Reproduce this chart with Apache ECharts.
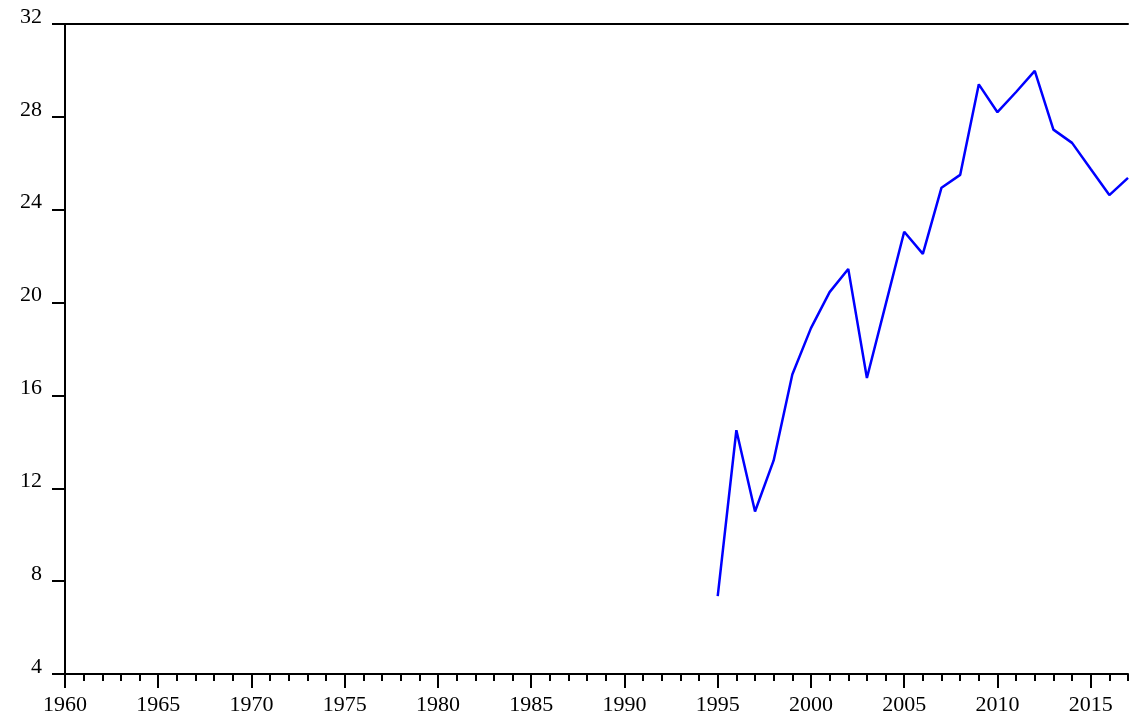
<!DOCTYPE html>
<html>
<head>
<meta charset="utf-8">
<script src="https://cdn.jsdelivr.net/npm/echarts@6/dist/echarts.min.js"></script>
<style>
html,body{margin:0;padding:0;background:#fff;}
#chart{width:1129px;height:716px;}
</style>
</head>
<body>
<div id="chart"></div>
<script>
var categories = ['1960','1961','1962','1963','1964','1965','1966','1967','1968','1969',
  '1970','1971','1972','1973','1974','1975','1976','1977','1978','1979',
  '1980','1981','1982','1983','1984','1985','1986','1987','1988','1989',
  '1990','1991','1992','1993','1994','1995','1996','1997','1998','1999',
  '2000','2001','2002','2003','2004','2005','2006','2007','2008','2009',
  '2010','2011','2012','2013','2014','2015','2016','2017'];
var dataYears = ['1995','1996','1997','1998','1999','2000','2001','2002','2003','2004',
  '2005','2006','2007','2008','2009','2010','2011','2012','2013','2014','2015','2016','2017'];
var values = [7.35, 14.5, 11.0, 13.2, 16.9, 18.9, 20.45, 21.45, 16.75, 19.9,
  23.05, 22.1, 24.95, 25.5, 29.4, 28.2, 29.07, 29.98, 27.45, 26.88, 25.75, 24.63, 25.37];
var yTicks = {min: 4, max: 32, interval: 4};

var font = 'Liberation Serif';
var chart = echarts.init(document.getElementById('chart'), null, {renderer: 'canvas'});
var lineStyle = {color: '#000', width: 2};
chart.setOption({
  animation: false,
  backgroundColor: '#fff',
  grid: {left: 65, right: 1, top: 24, bottom: 42, containLabel: false},
  xAxis: [
    {
      type: 'category', data: categories, boundaryGap: false, position: 'bottom',
      axisLine: {show: true, lineStyle: lineStyle},
      axisTick: {show: true, length: 14, lineStyle: lineStyle,
        interval: function (i) { return i % 5 === 0; }},
      axisLabel: {show: true, color: '#000', fontFamily: font, fontSize: 22, margin: 20,
        interval: function (i) { return i % 5 === 0; }},
      splitLine: {show: false}
    },
    {
      type: 'category', data: categories, boundaryGap: false, position: 'bottom',
      axisLine: {show: false},
      axisTick: {show: true, length: 7, interval: 0, lineStyle: lineStyle},
      axisLabel: {show: false},
      splitLine: {show: false}
    },
    {
      type: 'category', data: categories, boundaryGap: false, position: 'top',
      axisLine: {show: true, lineStyle: lineStyle},
      axisTick: {show: false}, axisLabel: {show: false}, splitLine: {show: false}
    }
  ],
  yAxis: {
    type: 'value', min: yTicks.min, max: yTicks.max, interval: yTicks.interval,
    axisLine: {show: true, lineStyle: lineStyle},
    axisTick: {show: true, length: 13, lineStyle: lineStyle},
    axisLabel: {color: '#000', fontFamily: font, fontSize: 22, margin: 23,
      verticalAlign: 'bottom', lineHeight: 14},
    splitLine: {show: false}
  },
  series: [{
    type: 'line', xAxisIndex: 0,
    data: dataYears.map(function (y, i) { return [y, values[i]]; }),
    showSymbol: false, symbol: 'none',
    lineStyle: {color: '#0000ff', width: 2.5},
    itemStyle: {color: '#0000ff'}
  }]
});
</script>
</body>
</html>
